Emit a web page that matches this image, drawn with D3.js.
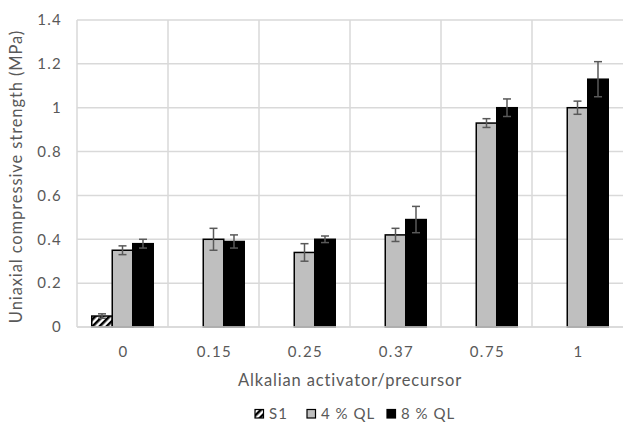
<!DOCTYPE html>
<html>
<head>
<meta charset="utf-8">
<script src="https://cdn.jsdelivr.net/npm/d3@7"></script>
<style>
  body { margin: 0; background: #fff; }
  svg { display: block; font-family: Lato, "Open Sans", sans-serif; }
</style>
</head>
<body>
<svg id="vis" width="623" height="423"></svg>
<script>
// data
let categories = ["0", "0.15", "0.25", "0.37", "0.75", "1"];
let seriesNames = ["S1", "4 % QL", "8 % QL"];
let s1Values = [0.05, null, null, null, null, null];
let s1Errors = [0.01, null, null, null, null, null];
let ql4Values = [0.35, 0.40, 0.34, 0.42, 0.93, 1.00];
let ql4Errors = [0.02, 0.05, 0.04, 0.03, 0.02, 0.03];
let ql8Values = [0.38, 0.39, 0.40, 0.49, 1.00, 1.13];
let ql8Errors = [0.02, 0.03, 0.015, 0.06, 0.04, 0.08];
let yTicks = [0, 0.2, 0.4, 0.6, 0.8, 1, 1.2, 1.4];

let series = [
    {name: seriesNames[0], values: s1Values, errors: s1Errors, fill: "url(#hatch)"},
    {name: seriesNames[1], values: ql4Values, errors: ql4Errors, fill: "#bfbfbf"},
    {name: seriesNames[2], values: ql8Values, errors: ql8Errors, fill: "#000"}
];

let svg = d3.select("#vis");
let margin = {left: 77, right: 0, top: 20, bottom: 96};
let width = 623, height = 423;
let textColor = "#595959";

// hatch pattern for S1
let defs = svg.append("defs");
let pat = defs.append("pattern")
    .attr("id", "hatch")
    .attr("patternUnits", "userSpaceOnUse")
    .attr("width", 5)
    .attr("height", 5)
    .attr("patternTransform", "rotate(45)");
pat.append("rect").attr("width", 5).attr("height", 5).attr("fill", "#fff");
pat.append("rect").attr("width", 2.5).attr("height", 5).attr("fill", "#000");

let x = d3.scaleBand()
    .domain(categories)
    .range([margin.left, width - margin.right]);

let inner = d3.scaleBand()
    .domain(seriesNames)
    .range([0, x.bandwidth()])
    .paddingOuter(0.72);

let y = d3.scaleLinear()
    .domain([0, 1.4])
    .range([height - margin.bottom, margin.top]);

// gridlines
svg.append("g")
    .selectAll("line")
    .data(yTicks)
    .enter()
    .append("line")
    .attr("x1", margin.left)
    .attr("x2", width - margin.right)
    .attr("y1", d => y(d))
    .attr("y2", d => y(d))
    .attr("stroke", "#d9d9d9")
    .attr("stroke-width", 1.5);

svg.append("g")
    .selectAll("line")
    .data(categories)
    .enter()
    .append("line")
    .attr("x1", d => x(d))
    .attr("x2", d => x(d))
    .attr("y1", y(0))
    .attr("y2", y(1.4))
    .attr("stroke", "#d9d9d9")
    .attr("stroke-width", 1.5);

// bars
series.forEach(function (s) {
    let g = svg.append("g");
    let rows = categories.map((c, i) => ({c: c, v: s.values[i], e: s.errors[i]}))
        .filter(d => d.v !== null);

    g.selectAll("rect")
        .data(rows)
        .enter()
        .append("rect")
        .attr("x", d => x(d.c) + inner(s.name))
        .attr("y", d => y(d.v))
        .attr("width", inner.bandwidth())
        .attr("height", d => y(0) - y(d.v))
        .attr("fill", s.fill)
        .attr("stroke", "#000")
        .attr("stroke-width", 1.5);

    // error bars
    let cx = d => x(d.c) + inner(s.name) + inner.bandwidth() / 2;
    let eb = g.selectAll(".err")
        .data(rows)
        .enter()
        .append("g")
        .attr("stroke", textColor)
        .attr("stroke-width", 1.5);
    eb.append("line")
        .attr("x1", cx).attr("x2", cx)
        .attr("y1", d => y(d.v - d.e)).attr("y2", d => y(d.v + d.e));
    eb.append("line")
        .attr("x1", d => cx(d) - 4).attr("x2", d => cx(d) + 4)
        .attr("y1", d => y(d.v + d.e)).attr("y2", d => y(d.v + d.e));
    eb.append("line")
        .attr("x1", d => cx(d) - 4).attr("x2", d => cx(d) + 4)
        .attr("y1", d => y(d.v - d.e)).attr("y2", d => y(d.v - d.e));
});

// baseline
svg.append("line")
    .attr("x1", margin.left)
    .attr("x2", width - margin.right)
    .attr("y1", y(0))
    .attr("y2", y(0))
    .attr("stroke", "#d9d9d9")
    .attr("stroke-width", 1.5);

// y axis labels
svg.append("g")
    .selectAll("text")
    .data(yTicks)
    .enter()
    .append("text")
    .attr("x", 62)
    .attr("y", d => y(d))
    .attr("dy", "0.35em")
    .attr("text-anchor", "end")
    .attr("font-size", 15)
    .attr("letter-spacing", 1.3)
    .attr("fill", textColor)
    .text(d => d3.format("")(d));

// x axis labels
svg.append("g")
    .selectAll("text")
    .data(categories)
    .enter()
    .append("text")
    .attr("x", d => x(d) + x.bandwidth() / 2 + 1)
    .attr("y", 352)
    .attr("dy", "0.35em")
    .attr("text-anchor", "middle")
    .attr("font-size", 15)
    .attr("letter-spacing", 1.5)
    .attr("fill", textColor)
    .text(d => d);

// axis titles
svg.append("text")
    .attr("x", 350)
    .attr("y", 380)
    .attr("dy", "0.35em")
    .attr("text-anchor", "middle")
    .attr("font-size", 16.5)
    .attr("letter-spacing", 0.85)
    .attr("fill", textColor)
    .text("Alkalian activator/precursor");

svg.append("text")
    .attr("transform", "translate(16," + ((y(0) + y(1.4)) / 2 + 3) + ") rotate(-90)")
    .attr("dy", "0.35em")
    .attr("text-anchor", "middle")
    .attr("font-size", 16.5)
    .attr("letter-spacing", 0.9)
    .attr("fill", textColor)
    .text("Uniaxial compressive strength (MPa)");

// legend
let legendX = [255, 307, 387];
let legend = svg.append("g")
    .selectAll("g")
    .data(series)
    .enter()
    .append("g")
    .attr("transform", (d, i) => "translate(" + legendX[i] + ",414)");
legend.append("rect")
    .attr("x", 0).attr("y", -4.5)
    .attr("width", 8.5).attr("height", 8.5)
    .attr("fill", d => d.fill)
    .attr("stroke", "#000")
    .attr("stroke-width", 1.2);
legend.append("text")
    .attr("x", 14)
    .attr("dy", "0.35em")
    .attr("font-size", 15)
    .attr("letter-spacing", 1)
    .attr("fill", textColor)
    .text(d => d.name);
</script>
</body>
</html>
